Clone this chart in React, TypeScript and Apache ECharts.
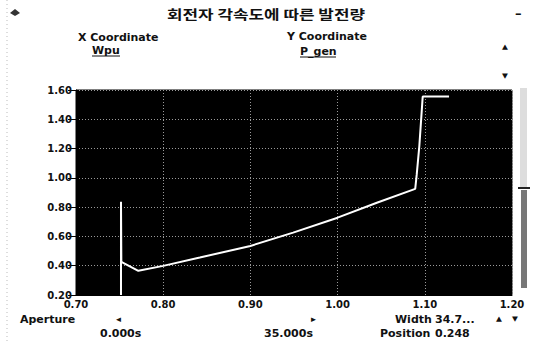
import React, { useEffect, useRef } from "react";
import * as echarts from "echarts";

const titleText = "회전자 각속도에 따른 발전량";
const xLabelTitle = "X Coordinate";
const yLabelTitle = "Y Coordinate";
const xVar = "Wpu";
const yVar = "P_gen";

// curve points [Wpu, P_gen]
const wpu = [0.7516, 0.7516, 0.752, 0.7525, 0.7715, 0.8, 0.842, 0.9, 0.949, 1.0, 1.045, 1.089, 1.0907, 1.0937, 1.0976, 1.1278];
const pgen = [0.2, 0.837, 0.43, 0.425, 0.365, 0.399, 0.456, 0.535, 0.626, 0.728, 0.83, 0.925, 1.02, 1.215, 1.555, 1.555];

const xMin = 0.7;
const xMax = 1.2;
const xStep = 0.1;
const yMin = 0.2;
const yMax = 1.6;
const yStep = 0.2;

export default function App() {
  const ref = useRef<HTMLDivElement>(null);
  useEffect(() => {
    if (!ref.current) return;
    const chart = echarts.init(ref.current, null, { renderer: "svg" });
    const font = "DejaVu Sans";
    const txt = (x: number, y: number, text: string, extra: any = {}, sx = 1.1) => ({
      type: "text",
      x,
      y,
      scaleX: sx,
      style: { text, fill: "#111", font: `bold 10px '${font}'`, textVerticalAlign: "middle", ...extra },
    });
    chart.setOption({
      animation: false,
      backgroundColor: "#fff",
      grid: { left: 76, top: 90, right: 23, bottom: 46, show: true, backgroundColor: "#000", borderColor: "#000", borderWidth: 1 },
      xAxis: {
        type: "value",
        min: xMin,
        max: xMax,
        interval: xStep,
        axisLine: { show: true, lineStyle: { color: "#000" } },
        axisTick: { show: false },
        axisLabel: { color: "#111", fontFamily: font, fontWeight: "bold", fontSize: 10, margin: 4, formatter: (v: number) => v.toFixed(2) },
        splitLine: { show: true, lineStyle: { color: "#9a9a9a", type: [1, 2], width: 1 } },
      },
      yAxis: {
        type: "value",
        min: yMin,
        max: yMax,
        interval: yStep,
        axisLine: { show: true, lineStyle: { color: "#000" } },
        axisTick: { show: true, length: 8, lineStyle: { color: "#000" } },
        axisLabel: { color: "#111", fontFamily: font, fontWeight: "bold", fontSize: 10, margin: 4, formatter: (v: number) => v.toFixed(2) },
        splitLine: { show: true, lineStyle: { color: "#9a9a9a", type: [1, 2], width: 1 } },
      },
      series: [
        {
          type: "line",
          data: wpu.map((x, i) => [x, pgen[i]]),
          showSymbol: false,
          lineStyle: { color: "#fff", width: 2 },
        },
      ],
      graphic: [
        { type: "line", shape: { x1: 7, y1: 0, x2: 7, y2: 341 }, style: { stroke: "#bbb", lineDash: [1, 3] } },
        { type: "polygon", shape: { points: [[10, 13], [15, 9], [20, 13], [15, 16]] }, style: { fill: "#333" } },
        txt(266, 13, titleText, { font: `bold 13px 'Noto Sans CJK KR'`, textAlign: "center" }, 1.3),
        txt(515, 14, "–", { font: `bold 12px '${font}'` }),
        txt(78, 37, xLabelTitle),
        txt(92, 50, xVar),
        { type: "line", shape: { x1: 92, y1: 56, x2: 120, y2: 56 }, style: { stroke: "#111", lineWidth: 1 } },
        txt(287, 36, yLabelTitle),
        txt(300, 51, yVar),
        { type: "line", shape: { x1: 300, y1: 57, x2: 336, y2: 57 }, style: { stroke: "#111", lineWidth: 1 } },
        txt(505, 47, "▲", { font: `7px '${font}'`, textAlign: "center" }),
        txt(505, 76, "▼", { font: `7px '${font}'`, textAlign: "center" }),
        { type: "rect", shape: { x: 520, y: 88, width: 7, height: 100 }, style: { fill: "#ddd" } },
        { type: "rect", shape: { x: 521, y: 190, width: 6, height: 98 }, style: { fill: "#777" } },
        { type: "line", shape: { x1: 518, y1: 188, x2: 530, y2: 188 }, style: { stroke: "#222", lineWidth: 2 } },
        txt(20, 319, "Aperture"),
        txt(116, 319, "◂", { font: `9px '${font}'` }),
        txt(311, 319, "▸", { font: `9px '${font}'` }),
        txt(395, 319, "Width"),
        txt(435, 319, "34.7..."),
        txt(499, 319, "▲", { font: `7px '${font}'`, textAlign: "center" }),
        txt(515, 319, "▼", { font: `7px '${font}'`, textAlign: "center" }),
        txt(100, 333, "0.000s"),
        txt(264, 333, "35.000s"),
        txt(380, 333, "Position"),
        txt(435, 333, "0.248"),
      ],
    });
    return () => chart.dispose();
  }, []);
  return <div ref={ref} style={{ width: 535, height: 341, position: "absolute", left: 0, top: 0 }} />;
}
